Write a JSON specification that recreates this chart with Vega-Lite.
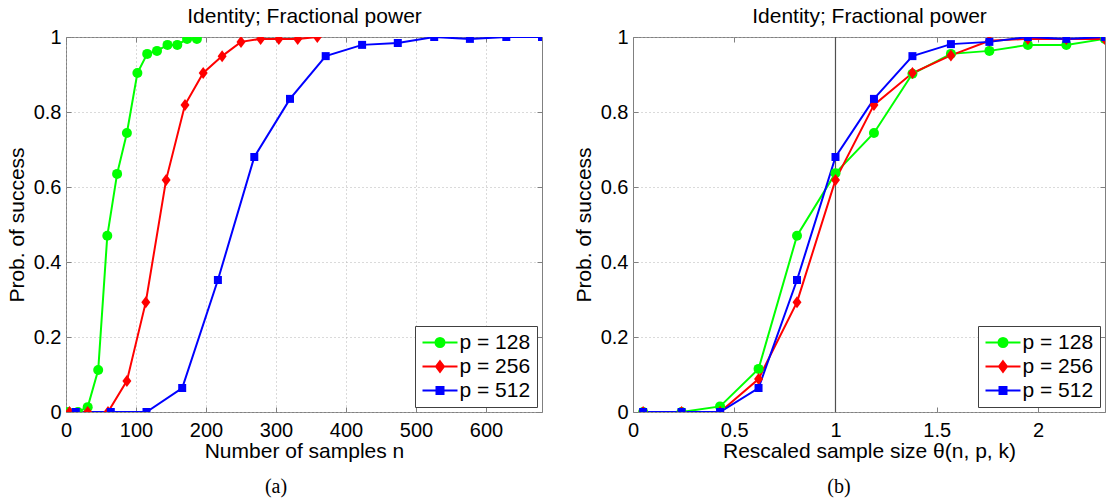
{
  "$schema": "https://vega.github.io/schema/vega-lite/v6.json",
  "background": "white",
  "padding": {"left": 5, "top": 5, "right": 0, "bottom": 0},
  "spacing": 29,
  "config": {
    "font": "Liberation Sans",
    "view": {"stroke": "#808080", "strokeWidth": 1},
    "axis": {
      "domain": false,
      "grid": true,
      "gridColor": "#b4b4b4",
      "gridDash": [1, 3],
      "gridWidth": 1,
      "ticks": true,
      "tickSize": -5,
      "tickColor": "#808080",
      "tickWidth": 1,
      "labelFont": "Liberation Sans",
      "labelFontSize": 20,
      "labelColor": "#000000",
      "labelPadding": 10,
      "labelFlush": false,
      "labelOverlap": false,
      "titleFont": "Liberation Sans",
      "titleFontSize": 21,
      "titleFontWeight": "normal",
      "titleColor": "#000000"
    },
    "axisBottom": {"labelPadding": 13},
    "legend": {
      "title": null, "orient": "bottom-right", "offset": 5,
      "strokeColor": "#404040", "fillColor": "#ffffff", "padding": 6,
      "labelFont": "Liberation Sans", "labelFontSize": 21, "labelColor": "#000000", "labelOffset": 9,
      "symbolSize": 100, "symbolOffset": 8.5, "rowPadding": 2, "symbolStrokeWidth": 2, "symbolOpacity": 1
    },
    "title": {"font": "Liberation Serif", "fontSize": 20, "fontWeight": "normal", "color": "#000000", "frame": "group"}
  },
  "datasets": {
    "left": [
      {"p": "p = 128", "n": 3, "prob": 0},
      {"p": "p = 128", "n": 17, "prob": 0},
      {"p": "p = 128", "n": 31, "prob": 0.013},
      {"p": "p = 128", "n": 46, "prob": 0.112},
      {"p": "p = 128", "n": 59, "prob": 0.47},
      {"p": "p = 128", "n": 73, "prob": 0.635},
      {"p": "p = 128", "n": 87, "prob": 0.744},
      {"p": "p = 128", "n": 102, "prob": 0.904},
      {"p": "p = 128", "n": 116, "prob": 0.955},
      {"p": "p = 128", "n": 130, "prob": 0.963},
      {"p": "p = 128", "n": 145, "prob": 0.979},
      {"p": "p = 128", "n": 159, "prob": 0.979},
      {"p": "p = 128", "n": 173, "prob": 0.995},
      {"p": "p = 128", "n": 187, "prob": 0.995},
      {"p": "p = 256", "n": 5, "prob": 0},
      {"p": "p = 256", "n": 31, "prob": 0},
      {"p": "p = 256", "n": 60, "prob": 0},
      {"p": "p = 256", "n": 87, "prob": 0.083},
      {"p": "p = 256", "n": 114, "prob": 0.293},
      {"p": "p = 256", "n": 143, "prob": 0.619},
      {"p": "p = 256", "n": 170, "prob": 0.819},
      {"p": "p = 256", "n": 196, "prob": 0.904},
      {"p": "p = 256", "n": 223, "prob": 0.949},
      {"p": "p = 256", "n": 250, "prob": 0.987},
      {"p": "p = 256", "n": 278, "prob": 0.995},
      {"p": "p = 256", "n": 304, "prob": 0.995},
      {"p": "p = 256", "n": 331, "prob": 0.995},
      {"p": "p = 256", "n": 359, "prob": 1.0},
      {"p": "p = 512", "n": 14, "prob": 0},
      {"p": "p = 512", "n": 64, "prob": 0},
      {"p": "p = 512", "n": 115, "prob": 0},
      {"p": "p = 512", "n": 166, "prob": 0.064},
      {"p": "p = 512", "n": 217, "prob": 0.352},
      {"p": "p = 512", "n": 269, "prob": 0.68},
      {"p": "p = 512", "n": 320, "prob": 0.835},
      {"p": "p = 512", "n": 371, "prob": 0.949},
      {"p": "p = 512", "n": 423, "prob": 0.979},
      {"p": "p = 512", "n": 474, "prob": 0.984},
      {"p": "p = 512", "n": 526, "prob": 1.0},
      {"p": "p = 512", "n": 577, "prob": 0.995},
      {"p": "p = 512", "n": 629, "prob": 1.0},
      {"p": "p = 512", "n": 680, "prob": 1.0}
    ],
    "right": [
      {"p": "p = 128", "theta": 0.05, "prob": 0},
      {"p": "p = 128", "theta": 0.24, "prob": 0},
      {"p": "p = 128", "theta": 0.43, "prob": 0.015},
      {"p": "p = 128", "theta": 0.62, "prob": 0.115},
      {"p": "p = 128", "theta": 0.81, "prob": 0.47},
      {"p": "p = 128", "theta": 1.0, "prob": 0.637},
      {"p": "p = 128", "theta": 1.19, "prob": 0.744},
      {"p": "p = 128", "theta": 1.38, "prob": 0.902},
      {"p": "p = 128", "theta": 1.57, "prob": 0.955},
      {"p": "p = 128", "theta": 1.76, "prob": 0.963},
      {"p": "p = 128", "theta": 1.95, "prob": 0.979},
      {"p": "p = 128", "theta": 2.14, "prob": 0.979},
      {"p": "p = 128", "theta": 2.33, "prob": 0.995},
      {"p": "p = 256", "theta": 0.05, "prob": 0},
      {"p": "p = 256", "theta": 0.24, "prob": 0},
      {"p": "p = 256", "theta": 0.43, "prob": 0},
      {"p": "p = 256", "theta": 0.62, "prob": 0.088},
      {"p": "p = 256", "theta": 0.81, "prob": 0.293},
      {"p": "p = 256", "theta": 1.0, "prob": 0.619},
      {"p": "p = 256", "theta": 1.19, "prob": 0.819},
      {"p": "p = 256", "theta": 1.38, "prob": 0.904},
      {"p": "p = 256", "theta": 1.57, "prob": 0.951},
      {"p": "p = 256", "theta": 1.76, "prob": 0.99},
      {"p": "p = 256", "theta": 1.95, "prob": 0.995},
      {"p": "p = 256", "theta": 2.14, "prob": 0.995},
      {"p": "p = 256", "theta": 2.33, "prob": 0.995},
      {"p": "p = 512", "theta": 0.05, "prob": 0},
      {"p": "p = 512", "theta": 0.24, "prob": 0},
      {"p": "p = 512", "theta": 0.43, "prob": 0},
      {"p": "p = 512", "theta": 0.62, "prob": 0.064},
      {"p": "p = 512", "theta": 0.81, "prob": 0.352},
      {"p": "p = 512", "theta": 1.0, "prob": 0.68},
      {"p": "p = 512", "theta": 1.19, "prob": 0.835},
      {"p": "p = 512", "theta": 1.38, "prob": 0.949},
      {"p": "p = 512", "theta": 1.57, "prob": 0.981},
      {"p": "p = 512", "theta": 1.76, "prob": 0.987},
      {"p": "p = 512", "theta": 1.95, "prob": 1.0},
      {"p": "p = 512", "theta": 2.14, "prob": 0.995},
      {"p": "p = 512", "theta": 2.33, "prob": 1.0}
    ],
    "vline": [{"theta": 1}]
  },
  "resolve": {
    "scale": {"color": "independent"},
    "legend": {"color": "independent"}
  },
  "hconcat": [
    {
      "width": 476,
      "height": 375,
      "title": {"text": "(a)", "orient": "bottom", "dx": -28, "offset": 16},
      "data": {"name": "left"},
      "encoding": {
        "color": {
          "field": "p", "type": "nominal",
          "scale": {"domain": ["p = 128", "p = 256", "p = 512"], "range": ["#00ff00", "#ff0000", "#0000ff"]},
          "legend": {
            "symbolType": {"expr": "datum.value === 'p = 128' ? 'M-3.5,0H3.5M-0.9,0A0.9,0.9,0,1,0,0.9,0A0.9,0.9,0,1,0,-0.9,0Z' : datum.value === 'p = 256' ? 'M-3.5,0H3.5M0,-1.05L0.8,0L0,1.05L-0.8,0Z' : 'M-3.5,0H3.5M-0.7,-0.7H0.7V0.7H-0.7Z'"},
            "symbolStrokeColor": {"expr": "datum.value === 'p = 128' ? '#00ff00' : datum.value === 'p = 256' ? '#ff0000' : '#0000ff'"},
            "symbolFillColor": {"expr": "datum.value === 'p = 128' ? '#00ff00' : datum.value === 'p = 256' ? '#ff0000' : '#0000ff'"}
          }
        }
      },
      "layer": [
        {
          "mark": {"type": "line", "strokeWidth": 2, "clip": true},
          "encoding": {
            "x": {"field": "n", "type": "quantitative", "scale": {"domain": [0, 680], "nice": false, "zero": false},
                  "axis": {"orient": "bottom", "values": [0, 100, 200, 300, 400, 500, 600], "format": "d", "title": "Number of samples n", "titlePadding": 0}},
            "y": {"field": "prob", "type": "quantitative", "scale": {"domain": [0, 1], "nice": false},
                  "axis": {"orient": "left", "values": [0, 0.2, 0.4, 0.6, 0.8, 1], "format": "~r", "title": "Prob. of success", "titlePadding": 6}}
          }
        },
        {
          "transform": [{"filter": "datum.p === 'p = 128'"}],
          "mark": {"type": "point", "shape": "circle", "size": 100, "filled": true, "opacity": 1, "clip": true},
          "encoding": {
            "x": {"field": "n", "type": "quantitative", "scale": {"domain": [0, 680], "nice": false, "zero": false},
                  "axis": {"orient": "top", "labels": false, "grid": false, "values": [0, 100, 200, 300, 400, 500, 600], "title": "Identity; Fractional power", "titlePadding": 10}},
            "y": {"field": "prob", "type": "quantitative", "scale": {"domain": [0, 1], "nice": false},
                  "axis": {"orient": "right", "labels": false, "grid": false, "values": [0, 0.2, 0.4, 0.6, 0.8, 1], "title": null}}
          }
        },
        {
          "transform": [{"filter": "datum.p === 'p = 256'"}],
          "mark": {"type": "point", "shape": "M0,-1L0.75,0L0,1L-0.75,0Z", "size": 144, "filled": true, "opacity": 1, "clip": true},
          "encoding": {
            "x": {"field": "n", "type": "quantitative", "scale": {"domain": [0, 680], "nice": false, "zero": false}, "axis": null},
            "y": {"field": "prob", "type": "quantitative", "scale": {"domain": [0, 1], "nice": false}, "axis": null}
          }
        },
        {
          "transform": [{"filter": "datum.p === 'p = 512'"}],
          "mark": {"type": "point", "shape": "square", "size": 64, "filled": true, "opacity": 1, "clip": true},
          "encoding": {
            "x": {"field": "n", "type": "quantitative", "scale": {"domain": [0, 680], "nice": false, "zero": false}, "axis": null},
            "y": {"field": "prob", "type": "quantitative", "scale": {"domain": [0, 1], "nice": false}, "axis": null}
          }
        }
      ],
      "resolve": {"axis": {"x": "independent", "y": "independent"}}
    },
    {
      "width": 472,
      "height": 375,
      "title": {"text": "(b)", "orient": "bottom", "dx": -30, "offset": 16},
      "data": {"name": "right"},
      "encoding": {
        "color": {
          "field": "p", "type": "nominal",
          "scale": {"domain": ["p = 128", "p = 256", "p = 512"], "range": ["#00ff00", "#ff0000", "#0000ff"]},
          "legend": {
            "symbolType": {"expr": "datum.value === 'p = 128' ? 'M-3.5,0H3.5M-0.9,0A0.9,0.9,0,1,0,0.9,0A0.9,0.9,0,1,0,-0.9,0Z' : datum.value === 'p = 256' ? 'M-3.5,0H3.5M0,-1.05L0.8,0L0,1.05L-0.8,0Z' : 'M-3.5,0H3.5M-0.7,-0.7H0.7V0.7H-0.7Z'"},
            "symbolStrokeColor": {"expr": "datum.value === 'p = 128' ? '#00ff00' : datum.value === 'p = 256' ? '#ff0000' : '#0000ff'"},
            "symbolFillColor": {"expr": "datum.value === 'p = 128' ? '#00ff00' : datum.value === 'p = 256' ? '#ff0000' : '#0000ff'"}
          }
        }
      },
      "layer": [
        {
          "data": {"name": "vline"},
          "mark": {"type": "rule", "color": "#505050", "strokeWidth": 1.2},
          "encoding": {
            "x": {"field": "theta", "type": "quantitative", "scale": {"domain": [0, 2.331], "nice": false, "zero": false}, "axis": null},
            "color": {"value": "#505050"}
          }
        },
        {
          "mark": {"type": "line", "strokeWidth": 2, "clip": true},
          "encoding": {
            "x": {"field": "theta", "type": "quantitative", "scale": {"domain": [0, 2.331], "nice": false, "zero": false},
                  "axis": {"orient": "bottom", "values": [0, 0.5, 1, 1.5, 2], "format": "~r", "title": "Rescaled sample size θ(n, p, k)", "titlePadding": 0}},
            "y": {"field": "prob", "type": "quantitative", "scale": {"domain": [0, 1], "nice": false},
                  "axis": {"orient": "left", "values": [0, 0.2, 0.4, 0.6, 0.8, 1], "format": "~r", "title": "Prob. of success", "titlePadding": 6}}
          }
        },
        {
          "transform": [{"filter": "datum.p === 'p = 128'"}],
          "mark": {"type": "point", "shape": "circle", "size": 100, "filled": true, "opacity": 1, "clip": true},
          "encoding": {
            "x": {"field": "theta", "type": "quantitative", "scale": {"domain": [0, 2.331], "nice": false, "zero": false},
                  "axis": {"orient": "top", "labels": false, "grid": false, "values": [0, 0.5, 1, 1.5, 2], "title": "Identity; Fractional power", "titlePadding": 10}},
            "y": {"field": "prob", "type": "quantitative", "scale": {"domain": [0, 1], "nice": false},
                  "axis": {"orient": "right", "labels": false, "grid": false, "values": [0, 0.2, 0.4, 0.6, 0.8, 1], "title": null}}
          }
        },
        {
          "transform": [{"filter": "datum.p === 'p = 256'"}],
          "mark": {"type": "point", "shape": "M0,-1L0.75,0L0,1L-0.75,0Z", "size": 144, "filled": true, "opacity": 1, "clip": true},
          "encoding": {
            "x": {"field": "theta", "type": "quantitative", "scale": {"domain": [0, 2.331], "nice": false, "zero": false}, "axis": null},
            "y": {"field": "prob", "type": "quantitative", "scale": {"domain": [0, 1], "nice": false}, "axis": null}
          }
        },
        {
          "transform": [{"filter": "datum.p === 'p = 512'"}],
          "mark": {"type": "point", "shape": "square", "size": 64, "filled": true, "opacity": 1, "clip": true},
          "encoding": {
            "x": {"field": "theta", "type": "quantitative", "scale": {"domain": [0, 2.331], "nice": false, "zero": false}, "axis": null},
            "y": {"field": "prob", "type": "quantitative", "scale": {"domain": [0, 1], "nice": false}, "axis": null}
          }
        }
      ],
      "resolve": {"axis": {"x": "independent", "y": "independent"}}
    }
  ]
}
